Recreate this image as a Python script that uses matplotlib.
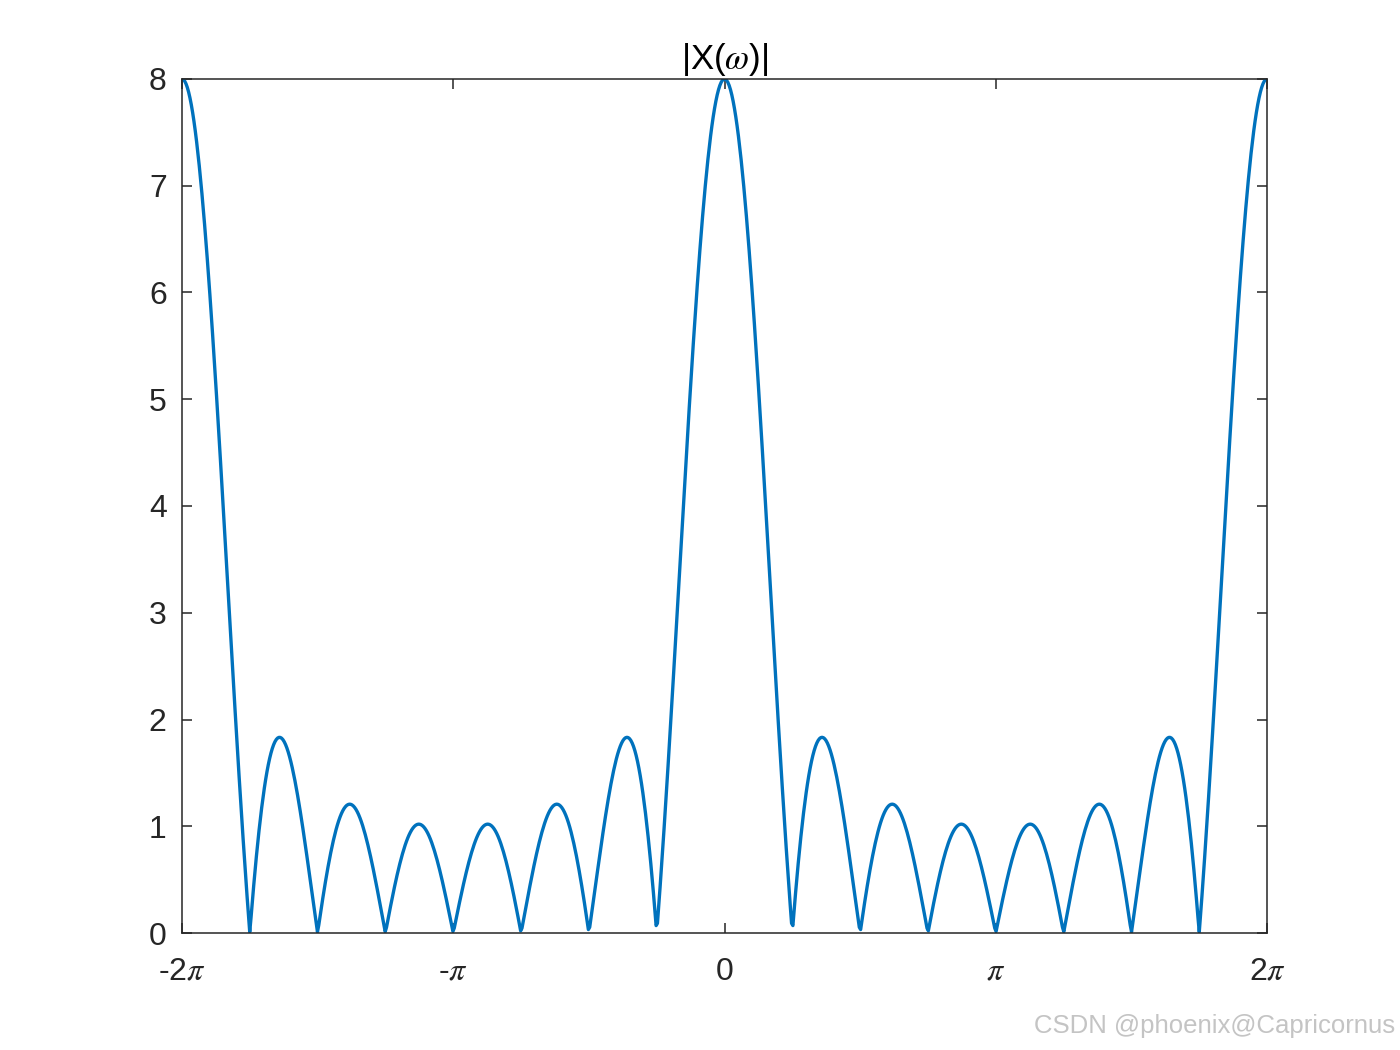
import numpy as np
import matplotlib
matplotlib.use('Agg')
import matplotlib.pyplot as plt

# signal x[n], n = 0..7 (rectangular pulse), magnitude of its DTFT is plotted
n_idx = [0, 1, 2, 3, 4, 5, 6, 7]
x_n = [1, 1, 1, 1, 1, 1, 1, 1]

xtick_vals = [-2 * np.pi, -np.pi, 0, np.pi, 2 * np.pi]
xtick_labels = [r'-2$\pi$', r'-$\pi$', '0', r'$\pi$', r'2$\pi$']
ytick_vals = [0, 1, 2, 3, 4, 5, 6, 7, 8]

plt.rcParams['font.family'] = ['Liberation Sans', 'DejaVu Sans']
plt.rcParams['mathtext.fontset'] = 'stix'

# frequency grid
w = np.linspace(-2 * np.pi, 2 * np.pi, 818)
X = np.exp(-1j * np.outer(w, n_idx)) @ np.array(x_n, dtype=float)

fig = plt.figure(figsize=(14, 10.5), dpi=100)
ax = fig.add_axes([0.13, 0.1114, 0.775, 0.8134])
ax.plot(w, np.abs(X), color='#0072BD', lw=2.4)

ax.set_xlim(-2 * np.pi, 2 * np.pi)
ax.set_ylim(0, 8)
ax.set_xticks(xtick_vals)
ax.set_xticklabels(xtick_labels)
ax.set_yticks(ytick_vals)

axc = '#262626'
for s in ax.spines.values():
    s.set_color(axc)
    s.set_linewidth(1.1)
ax.tick_params(direction='in', length=7.5, width=1.1, color=axc, labelcolor=axc,
               labelsize=23, top=True, right=True)
ax.tick_params(axis='x', pad=17)
ax.tick_params(axis='y', pad=11)

ax.set_title(r'|X($\omega$)|', fontsize=25, color='black', pad=7)

fig.text(0.9965, 0.011, 'CSDN @phoenix@Capricornus', ha='right', va='bottom',
         fontsize=18.5, color='#c4c4c4')

fig.savefig('out.png', dpi=100)
